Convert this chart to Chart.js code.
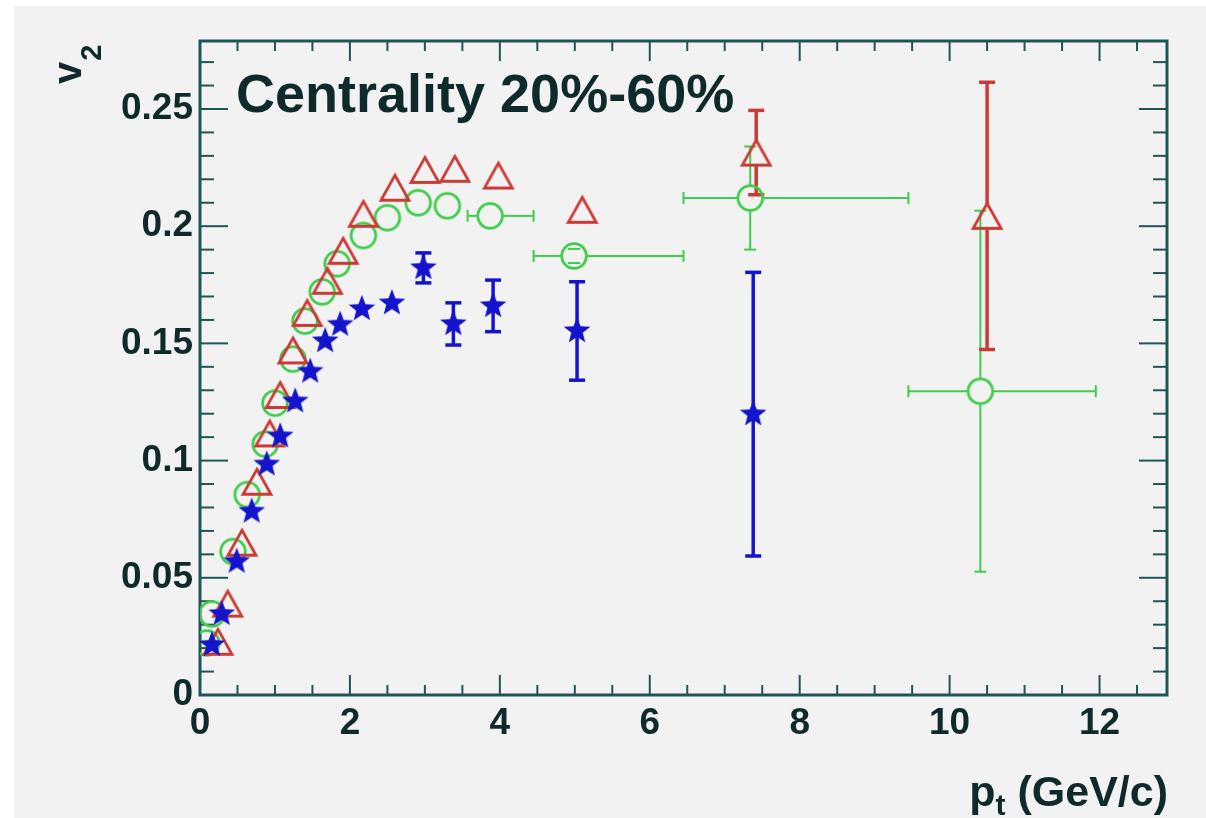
<!DOCTYPE html>
<html>
<head>
<meta charset="utf-8">
<title>v2 vs pt, centrality 20%-60%</title>
<script src="https://cdn.jsdelivr.net/npm/chart.js@4.4.1/dist/chart.umd.min.js"></script>
<style>
  html, body { margin: 0; padding: 0; background: #fff; }
  #wrap { width: 1206px; height: 818px; }
</style>
</head>
<body>
<div id="wrap"><canvas id="v2chart" width="1206" height="818"></canvas></div>
<script>
// ----- data: pt (GeV/c), v2 and errors per species -----
const starPt  = [0.16, 0.29, 0.49, 0.69, 0.89, 1.07, 1.27, 1.47, 1.67, 1.87, 2.16, 2.56, 2.98, 3.38, 3.91, 5.03, 7.38];
const starV2  = [0.0214, 0.0346, 0.0569, 0.0783, 0.0984, 0.1104, 0.1253, 0.138, 0.151, 0.158, 0.1647, 0.1672, 0.1822, 0.1583, 0.166, 0.1553, 0.1198];
const starErr = [0, 0, 0, 0, 0, 0, 0, 0, 0, 0, 0, 0, 0.0064, 0.009, 0.011, 0.021, 0.0605];

const circPt   = [0.09, 0.16, 0.44, 0.63, 0.87, 1.0, 1.24, 1.40, 1.63, 1.83, 2.18, 2.5, 2.91, 3.3, 3.87, 4.99, 7.34, 10.41];
const circV2   = [0.0222, 0.0346, 0.0612, 0.0855, 0.107, 0.1245, 0.1433, 0.1595, 0.172, 0.184, 0.196, 0.2036, 0.21, 0.2087, 0.2044, 0.1873, 0.212, 0.1296];
const circErr  = [0, 0, 0, 0, 0, 0, 0, 0, 0, 0, 0, 0, 0, 0, 0, 0.003, 0.022, 0.077];
const circPtLo = [0, 0, 0, 0, 0, 0, 0, 0, 0, 0, 0, 0, 0, 0, 0.3, 0.54, 0.89, 0.96];
const circPtHi = [0, 0, 0, 0, 0, 0, 0, 0, 0, 0, 0, 0, 0, 0, 0.58, 1.46, 2.11, 1.54];

const triPt  = [0.24, 0.37, 0.56, 0.76, 0.93, 1.07, 1.24, 1.43, 1.7, 1.91, 2.18, 2.6, 3.0, 3.4, 3.98, 5.1, 7.42, 10.5];
const triV2  = [0.0227, 0.039, 0.065, 0.091, 0.1116, 0.128, 0.147, 0.163, 0.1767, 0.1895, 0.2053, 0.2164, 0.224, 0.2245, 0.2216, 0.207, 0.2314, 0.2044];
const triErr = [0, 0, 0, 0, 0, 0, 0, 0, 0, 0, 0, 0, 0, 0, 0, 0, 0.018, 0.057];

// axis ranges and tick labels
const xMax = 12.9, yMax = 0.279;
const xTicks = [0, 2, 4, 6, 8, 10, 12];
const yTicks = [0, 0.05, 0.1, 0.15, 0.2, 0.25];
const xMinorStep = 0.5, yMinorStep = 0.01;

const BLUE = '#1414cc', RED = '#cc3a36', GREEN = '#40cc4c';
const FRAME = '#1e5656', INK = '#0f2a2a';
const FONT = '"Liberation Sans", Arial, Helvetica, sans-serif';

// ----- marker images -----
function makeMarker(size, draw) {
  const c = document.createElement('canvas');
  c.width = size; c.height = size;
  draw(c.getContext('2d'), size / 2);
  return c;
}

const starImg = makeMarker(32, (g, m) => {
  const ro = 14, ri = 6;
  g.beginPath();
  for (let k = 0; k < 10; k++) {
    const r = k % 2 ? ri : ro;
    const a = -Math.PI / 2 + k * Math.PI / 5;
    g.lineTo(m + r * Math.cos(a), m + r * Math.sin(a));
  }
  g.closePath();
  g.fillStyle = BLUE;
  g.fill();
});

const triImg = makeMarker(36, (g, m) => {
  const hw = 14, hh = 12.5;
  g.beginPath();
  g.moveTo(m, m - hh);
  g.lineTo(m + hw, m + hh);
  g.lineTo(m - hw, m + hh);
  g.closePath();
  g.lineWidth = 2.8;
  g.strokeStyle = RED;
  g.stroke();
});

const circImg = makeMarker(32, (g, m) => {
  g.beginPath();
  g.arc(m, m, 12.3, 0, Math.PI * 2);
  g.lineWidth = 2.8;
  g.strokeStyle = GREEN;
  g.stroke();
});

const toPoints = (xs, ys) => xs.map((x, i) => ({ x: x, y: ys[i] }));

// error bars, drawn under the markers
const errorSets = [
  { ds: 0, yErr: circErr, xLo: circPtLo, xHi: circPtHi, color: GREEN, width: 2, cap: 6, gap: 13 },
  { ds: 1, yErr: triErr, color: RED, width: 3.5, cap: 8, gap: 12 },
  { ds: 2, yErr: starErr, color: BLUE, width: 3.5, cap: 8, gap: 4 }
];

function line(ctx, x1, y1, x2, y2) {
  ctx.beginPath();
  ctx.moveTo(x1, y1);
  ctx.lineTo(x2, y2);
  ctx.stroke();
}

const errorBars = {
  id: 'errorBars',
  beforeDatasetsDraw(chart) {
    const ctx = chart.ctx, xs = chart.scales.x, ys = chart.scales.y;
    ctx.save();
    errorSets.forEach(set => {
      ctx.strokeStyle = set.color;
      ctx.lineWidth = set.width;
      chart.data.datasets[set.ds].data.forEach((p, i) => {
        const px = xs.getPixelForValue(p.x), py = ys.getPixelForValue(p.y);
        const e = set.yErr[i];
        if (e) {
          const top = ys.getPixelForValue(p.y + e), bot = ys.getPixelForValue(p.y - e);
          if (top < py - set.gap) line(ctx, px, py - set.gap, px, top);
          if (bot > py + set.gap) line(ctx, px, py + set.gap, px, bot);
          line(ctx, px - set.cap, top, px + set.cap, top);
          line(ctx, px - set.cap, bot, px + set.cap, bot);
        }
        if (set.xLo && set.xLo[i]) {
          const lft = xs.getPixelForValue(p.x - set.xLo[i]), rgt = xs.getPixelForValue(p.x + set.xHi[i]);
          if (lft < px - set.gap) line(ctx, px - set.gap, py, lft, py);
          if (rgt > px + set.gap) line(ctx, px + set.gap, py, rgt, py);
          line(ctx, lft, py - set.cap, lft, py + set.cap);
          line(ctx, rgt, py - set.cap, rgt, py + set.cap);
        }
      });
    });
    ctx.restore();
  }
};

// background, frame with inward ticks, title and axis titles
const decor = {
  id: 'decor',
  beforeDraw(chart) {
    const ctx = chart.ctx;
    ctx.save();
    ctx.fillStyle = '#ffffff';
    ctx.fillRect(0, 0, chart.width, chart.height);
    ctx.fillStyle = '#f2f2f2';
    ctx.fillRect(14, 6, chart.width - 14, chart.height - 6);
    ctx.restore();
  },
  beforeDatasetsDraw(chart) {
    const ctx = chart.ctx, a = chart.chartArea, xs = chart.scales.x, ys = chart.scales.y;
    ctx.save();
    ctx.strokeStyle = FRAME;
    ctx.lineWidth = 2;
    for (let k = 0; k * xMinorStep <= xMax + 1e-9; k++) {
      const v = k * xMinorStep;
      const px = xs.getPixelForValue(v);
      const len = (v % 2 === 0) ? 20 : 10;
      line(ctx, px, a.bottom, px, a.bottom - len);
      line(ctx, px, a.top, px, a.top + len);
    }
    for (let k = 0; k * yMinorStep <= yMax + 1e-9; k++) {
      const v = k * yMinorStep;
      const py = ys.getPixelForValue(v);
      const len = (k % 5 === 0) ? 28 : 14;
      line(ctx, a.left, py, a.left + len, py);
      line(ctx, a.right, py, a.right - len, py);
    }
    ctx.lineWidth = 3;
    ctx.strokeRect(a.left, a.top, a.right - a.left, a.bottom - a.top);

    ctx.fillStyle = INK;
    ctx.textBaseline = 'alphabetic';
    ctx.textAlign = 'left';
    ctx.font = 'bold 54px ' + FONT;
    ctx.fillText('Centrality 20%-60%', 236, 112);

    // x title: p_t (GeV/c), right aligned to the frame
    const big = 'bold 43px ' + FONT, small = 'bold 30px ' + FONT;
    ctx.font = big;
    const wP = ctx.measureText('p').width, wRest = ctx.measureText(' (GeV/c)').width;
    ctx.font = small;
    const wT = ctx.measureText('t').width;
    const x0 = a.right + 1 - (wP + wT + wRest);
    ctx.font = big;
    ctx.fillText('p', x0, 806);
    ctx.font = small;
    ctx.fillText('t', x0 + wP, 815);
    ctx.font = big;
    ctx.fillText(' (GeV/c)', x0 + wP + wT, 806);

    // y title: v_2, rotated
    ctx.translate(81, 84);
    ctx.rotate(-Math.PI / 2);
    ctx.font = 'bold 40px ' + FONT;
    ctx.fillText('v', 0, 0);
    const wV = ctx.measureText('v').width;
    ctx.font = 'bold 29px ' + FONT;
    ctx.fillText('2', wV + 1, 20);
    ctx.restore();
  }
};

const tickFont = { family: FONT, size: 37, weight: 'bold' };

new Chart(document.getElementById('v2chart'), {
  type: 'scatter',
  data: {
    datasets: [
      { label: 'circles', data: toPoints(circPt, circV2), pointStyle: circImg, pointRadius: 12, order: 3 },
      { label: 'triangles', data: toPoints(triPt, triV2), pointStyle: triImg, pointRadius: 12, order: 2 },
      { label: 'stars', data: toPoints(starPt, starV2), pointStyle: starImg, pointRadius: 12, order: 1 }
    ]
  },
  options: {
    responsive: false,
    animation: false,
    devicePixelRatio: 1,
    layout: { padding: { top: 41, right: 39, left: 0, bottom: 0 } },
    plugins: { legend: { display: false }, tooltip: { enabled: false } },
    scales: {
      x: {
        type: 'linear', min: 0, max: xMax,
        grid: { display: false, drawTicks: false },
        border: { display: false },
        afterFit: s => { s.height = 123; },
        afterBuildTicks: s => { s.ticks = xTicks.map(v => ({ value: v })); },
        ticks: { color: INK, font: tickFont, padding: 7, maxRotation: 0, callback: v => String(v) }
      },
      y: {
        type: 'linear', min: 0, max: yMax,
        grid: { display: false, drawTicks: false },
        border: { display: false },
        afterFit: s => { s.width = 200; },
        afterBuildTicks: s => { s.ticks = yTicks.map(v => ({ value: v })); },
        ticks: { color: INK, font: tickFont, padding: 7, callback: v => String(+v.toFixed(2)) }
      }
    }
  },
  plugins: [decor, errorBars]
});
</script>
</body>
</html>
